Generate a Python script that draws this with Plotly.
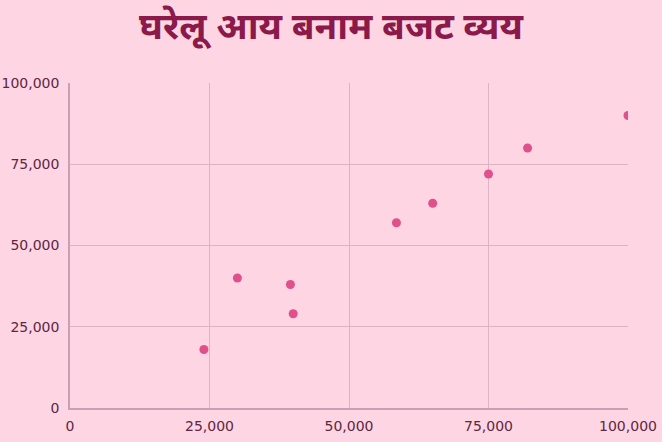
import plotly.graph_objects as go

# household income vs budgeted expense
income = [24000, 30000, 39500, 40000, 58500, 65000, 75000, 82000, 100000]
expense = [18000, 40000, 38000, 29000, 57000, 63000, 72000, 80000, 90000]
tick_vals = [0, 25000, 50000, 75000, 100000]
tick_text = ["0", "25,000", "50,000", "75,000", "100,000"]

BG = "#fdd5e3"
GRID = "#dcb4c4"
TEXT = "#5e2741"

fig = go.Figure()
fig.add_trace(go.Scatter(
    x=income, y=expense, mode="markers",
    marker={"color": "#e0508a", "size": 9},
    hovertemplate="%{x:,}<br>%{y:,}<extra></extra>",
))

fig.update_layout(
    width=662, height=442,
    paper_bgcolor=BG, plot_bgcolor=BG,
    margin={"l": 70, "r": 34, "t": 83, "b": 34},
    showlegend=False,
    title={
        "text": "<b>घरेलू आय बनाम बजट व्यय</b>",
        "x": 0.5, "xanchor": "center", "y": 0.94, "yanchor": "middle",
        "font": {"family": "Noto Sans, DejaVu Sans", "size": 37, "color": "#8b1a4a"},
    },
    font={"family": "DejaVu Sans, sans-serif", "size": 14, "color": TEXT},
)
axis = dict(
    range=[0, 100000], tickvals=tick_vals, ticktext=tick_text,
    showgrid=True, gridcolor=GRID, gridwidth=1,
    showline=True, linecolor="#c9a0b3", linewidth=1.5,
    zeroline=False, ticks="", fixedrange=True, automargin=False,
    tickfont={"color": TEXT, "size": 14},
)
fig.update_xaxes(**axis, ticklabelstandoff=4)
fig.update_yaxes(**axis, ticklabelstandoff=6)

# page body has a default 8px margin; drop it so the figure sits at the corner
fig.write_html("out.html", config={"displayModeBar": False},
               post_script="document.body.style.margin='0';")
